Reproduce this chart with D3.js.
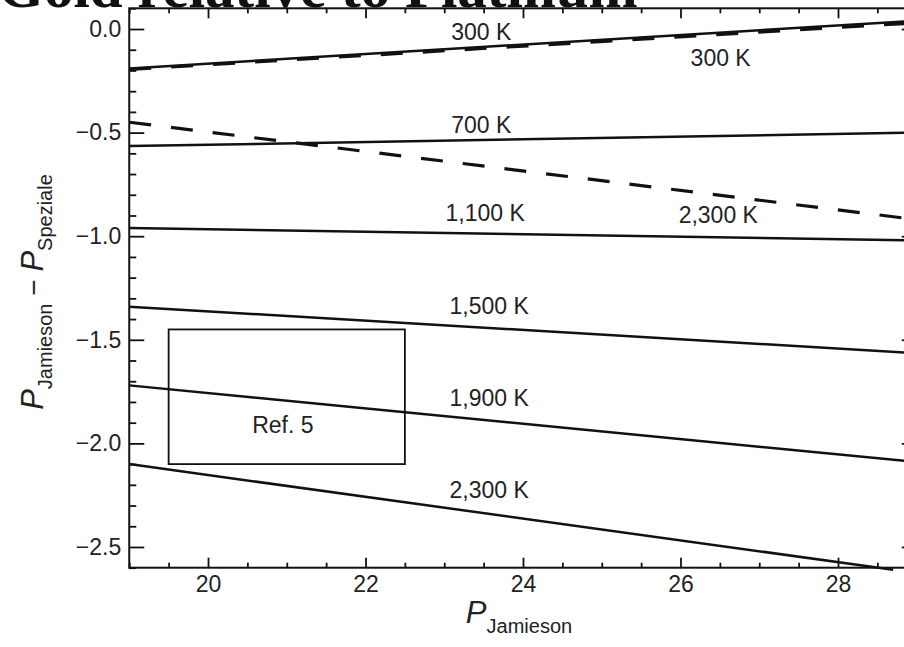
<!DOCTYPE html>
<html>
<head>
<meta charset="utf-8">
<script src="https://cdn.jsdelivr.net/npm/d3@7"></script>
<style>
  body { margin: 0; background: #fff; }
  svg { display: block; }
  .tick text { font-family: "Liberation Sans", Arial, sans-serif; font-size: 23px; fill: #222; }
</style>
</head>
<body>
<div id="chart"></div>
<script>
// data (P_Jamieson in GPa, difference in GPa)
var titleText = "Gold relative to Platinum";

var pressure = [19, 29];
var solid300K = [-0.19, 0.04];
var solid700K = [-0.565, -0.50];
var solid1100K = [-0.96, -1.02];
var solid1500K = [-1.34, -1.565];
var solid1900K = [-1.72, -2.09];
var pressure2300K = [19, 28.7];
var solid2300K = [-2.10, -2.61];

var dashed300K = [-0.195, 0.03];
var dashed2300K = [-0.45, -0.92];

var labelText = ["300 K", "300 K", "700 K", "2,300 K", "1,100 K", "1,500 K", "1,900 K", "2,300 K", "Ref. 5"];
var labelP    = [23.47, 26.51, 23.47, 26.48, 23.52, 23.57, 23.57, 23.57, 20.95];
var labelDiff = [-0.015, -0.14, -0.463, -0.898, -0.888, -1.337, -1.781, -2.225, -1.911];

var refBoxP = [19.5, 22.5];
var refBoxDiff = [-2.1, -1.45];

var xMajor = [20, 22, 24, 26, 28];
var yMajor = [-2.5, -2.0, -1.5, -1.0, -0.5, 0.0];

// set the dimensions of the graph
var width = 904, height = 647;

var svg = d3.select("#chart")
  .append("svg")
    .attr("width", width)
    .attr("height", height);

var x = d3.scaleLinear()
  .domain([19, 29])
  .range([129.25, 916.75]);

var y = d3.scaleLinear()
  .domain([-2.6, 0.1])
  .range([567.7, 8.3]);

// minor ticks
var xMinor = d3.range(19, 29.01, 0.5).filter(function(v) { return xMajor.indexOf(v) < 0; });
var yMinor = d3.range(-26, 2).map(function(v) { return v / 10; })
  .filter(function(v) { return yMajor.indexOf(v) < 0; });

// title, cut by the top of the picture
svg.append("text")
  .attr("x", -2)
  .attr("y", 7)
  .style("font-family", "'Liberation Serif', 'Times New Roman', serif")
  .style("font-weight", "bold")
  .style("font-size", "59px")
  .style("fill", "#111")
  .text(titleText);

// axes, ticks pointing inward
function addAxis(axis, tx, ty) {
  var g = svg.append("g")
    .attr("transform", "translate(" + tx + "," + ty + ")")
    .call(axis);
  g.select(".domain").remove();
  g.selectAll(".tick line").attr("stroke", "#111").attr("stroke-width", 1.8);
  return g;
}

var yb = y.range()[0], yt = y.range()[1], xl = x.range()[0], xr = x.range()[1];

addAxis(d3.axisBottom(x).tickValues(xMajor).tickSize(-10).tickSizeOuter(0).tickPadding(8).tickFormat(d3.format("d")), 0, yb);
addAxis(d3.axisBottom(x).tickValues(xMinor).tickSize(-5).tickSizeOuter(0).tickFormat(""), 0, yb);
addAxis(d3.axisTop(x).tickValues(xMajor).tickSize(-10).tickSizeOuter(0).tickFormat(""), 0, yt);
addAxis(d3.axisTop(x).tickValues(xMinor).tickSize(-5).tickSizeOuter(0).tickFormat(""), 0, yt);

addAxis(d3.axisLeft(y).tickValues(yMajor).tickSize(-15).tickSizeOuter(0).tickPadding(8).tickFormat(d3.format(".1f")), xl, 0);
addAxis(d3.axisLeft(y).tickValues(yMinor).tickSize(-7).tickSizeOuter(0).tickFormat(""), xl, 0);
addAxis(d3.axisRight(y).tickValues(yMajor).tickSize(-15).tickSizeOuter(0).tickFormat(""), xr, 0);
addAxis(d3.axisRight(y).tickValues(yMinor).tickSize(-7).tickSizeOuter(0).tickFormat(""), xr, 0);

// frame
svg.append("rect")
  .attr("x", xl)
  .attr("y", yt)
  .attr("width", xr - xl)
  .attr("height", yb - yt)
  .attr("fill", "none")
  .attr("stroke", "#111")
  .attr("stroke-width", 2);

// lines
var line = d3.line()
  .x(function(d) { return x(d[0]); })
  .y(function(d) { return y(d[1]); });

function zip(ps, vs) { return ps.map(function(p, i) { return [p, vs[i]]; }); }

var solids = [
  zip(pressure, solid300K),
  zip(pressure, solid700K),
  zip(pressure, solid1100K),
  zip(pressure, solid1500K),
  zip(pressure, solid1900K),
  zip(pressure2300K, solid2300K)
];
var dashes = [
  zip(pressure, dashed300K),
  zip(pressure, dashed2300K)
];

svg.append("g")
  .selectAll("path")
  .data(solids)
  .enter()
  .append("path")
    .attr("d", line)
    .attr("fill", "none")
    .attr("stroke", "#111")
    .attr("stroke-width", 2.5);

svg.append("g")
  .selectAll("path")
  .data(dashes)
  .enter()
  .append("path")
    .attr("d", line)
    .attr("fill", "none")
    .attr("stroke", "#111")
    .attr("stroke-width", 3.2)
    .attr("stroke-dasharray", "22,20");

// Ref. 5 box
svg.append("rect")
  .attr("x", x(refBoxP[0]))
  .attr("y", y(refBoxDiff[1]))
  .attr("width", x(refBoxP[1]) - x(refBoxP[0]))
  .attr("height", y(refBoxDiff[0]) - y(refBoxDiff[1]))
  .attr("fill", "none")
  .attr("stroke", "#111")
  .attr("stroke-width", 1.8);

// labels
svg.append("g")
  .selectAll("text")
  .data(labelText)
  .enter()
  .append("text")
    .attr("x", function(d, i) { return x(labelP[i]); })
    .attr("y", function(d, i) { return y(labelDiff[i]); })
    .attr("text-anchor", "middle")
    .attr("dominant-baseline", "central")
    .style("font-family", "'Liberation Sans', Arial, sans-serif")
    .style("font-size", "23px")
    .style("fill", "#222")
    .text(function(d) { return d; });

// axis titles
var xt = svg.append("text")
  .attr("x", 519)
  .attr("y", 623)
  .attr("text-anchor", "middle")
  .style("font-family", "'Liberation Sans', Arial, sans-serif")
  .style("fill", "#222");
xt.append("tspan").style("font-style", "italic").style("font-size", "31px").text("P");
xt.append("tspan").attr("dy", 10).style("font-size", "20px").text("Jamieson");

var yTitle = svg.append("text")
  .attr("transform", "translate(43,292) rotate(-90)")
  .attr("text-anchor", "middle")
  .style("font-family", "'Liberation Sans', Arial, sans-serif")
  .style("fill", "#222");
yTitle.append("tspan").style("font-style", "italic").style("font-size", "31px").text("P");
yTitle.append("tspan").attr("dy", 9).style("font-size", "20px").text("Jamieson");
yTitle.append("tspan").attr("dy", -9).style("font-size", "28px").text(" \u2212 ");
yTitle.append("tspan").style("font-style", "italic").style("font-size", "31px").text("P");
yTitle.append("tspan").attr("dy", 9).style("font-size", "20px").text("Speziale");
</script>
</body>
</html>
